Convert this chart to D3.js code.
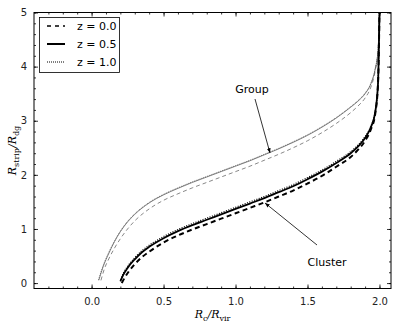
<!DOCTYPE html>
<html>
<head>
<meta charset="utf-8">
<script src="https://cdn.jsdelivr.net/npm/d3@7"></script>
<style>
  body { margin: 0; background: #fff; }
  text { font-family: "DejaVu Sans", sans-serif; }
</style>
</head>
<body>
<script>
// values
var groupZ0 = [[0.065,0.05],[0.09,0.27],[0.12,0.45],[0.16,0.65],[0.2,0.82],[0.25,1.0],[0.3,1.15],[0.4,1.37],[0.5,1.53],[0.6,1.65],[0.7,1.76],[0.8,1.86],[0.9,1.96],[1.0,2.06],[1.1,2.16],[1.2,2.27],[1.3,2.38],[1.4,2.5],[1.5,2.63],[1.6,2.78],[1.7,2.95],[1.8,3.15],[1.85,3.27],[1.9,3.42],[1.94,3.62],[1.97,3.92],[1.99,4.3],[2.0,5.0]];
var groupZ05 = [[0.05,0.05],[0.08,0.3],[0.12,0.55],[0.16,0.77],[0.2,0.95],[0.25,1.13],[0.3,1.27],[0.4,1.48],[0.5,1.63],[0.6,1.75],[0.7,1.86],[0.8,1.96],[0.9,2.06],[1.0,2.16],[1.1,2.26],[1.2,2.37],[1.3,2.48],[1.4,2.6],[1.5,2.73],[1.6,2.88],[1.7,3.05],[1.8,3.25],[1.85,3.36],[1.9,3.5],[1.94,3.68],[1.97,3.95],[1.99,4.3],[2.0,5.0]];
var groupZ1 = [[0.048,0.06],[0.08,0.32],[0.12,0.57],[0.16,0.78],[0.2,0.96],[0.25,1.14],[0.3,1.28],[0.4,1.49],[0.5,1.64],[0.6,1.76],[0.7,1.87],[0.8,1.97],[0.9,2.07],[1.0,2.17],[1.1,2.27],[1.2,2.38],[1.3,2.49],[1.4,2.61],[1.5,2.74],[1.6,2.89],[1.7,3.06],[1.8,3.26],[1.85,3.37],[1.9,3.51],[1.94,3.69],[1.97,3.96],[1.99,4.3],[2.0,5.0]];
var clusterZ0 = [[0.21,0.0],[0.23,0.1],[0.26,0.22],[0.3,0.35],[0.35,0.48],[0.4,0.58],[0.5,0.75],[0.6,0.88],[0.7,0.99],[0.8,1.09],[0.9,1.19],[1.0,1.29],[1.1,1.39],[1.2,1.49],[1.3,1.6],[1.4,1.71],[1.5,1.84],[1.6,1.98],[1.7,2.15],[1.8,2.33],[1.85,2.46],[1.9,2.63],[1.94,2.84],[1.97,3.12],[1.99,3.7],[2.0,5.0]];
var clusterZ05 = [[0.2,0.03],[0.22,0.15],[0.25,0.28],[0.3,0.44],[0.35,0.57],[0.4,0.67],[0.5,0.83],[0.6,0.96],[0.7,1.07],[0.8,1.17],[0.9,1.27],[1.0,1.37],[1.1,1.47],[1.2,1.57],[1.3,1.68],[1.4,1.79],[1.5,1.92],[1.6,2.06],[1.7,2.22],[1.8,2.4],[1.85,2.52],[1.9,2.68],[1.94,2.88],[1.97,3.15],[1.99,3.7],[2.0,5.0]];
var clusterZ1 = [[0.2,0.06],[0.22,0.18],[0.25,0.31],[0.3,0.47],[0.35,0.6],[0.4,0.7],[0.5,0.86],[0.6,0.99],[0.7,1.1],[0.8,1.2],[0.9,1.3],[1.0,1.4],[1.1,1.5],[1.2,1.6],[1.3,1.71],[1.4,1.82],[1.5,1.95],[1.6,2.09],[1.7,2.25],[1.8,2.43],[1.85,2.55],[1.9,2.71],[1.94,2.9],[1.97,3.17],[1.99,3.7],[2.0,5.0]];

var legendLabels = ["z = 0.0", "z = 0.5", "z = 1.0"];
var xTicks = [0.0, 0.5, 1.0, 1.5, 2.0];
var yTicks = [0, 1, 2, 3, 4, 5];

var W = 399, H = 327;
var m = { left: 34, right: 8, top: 12.5, bottom: 38.5 };

var svg = d3.select("body").append("svg")
    .attr("width", W)
    .attr("height", H);

var x = d3.scaleLinear().domain([-0.4, 2.08]).range([m.left, W - m.right]);
var y = d3.scaleLinear().domain([-0.1, 5]).range([H - m.bottom, m.top]);

svg.append("clipPath").attr("id", "clip")
  .append("rect")
    .attr("x", m.left).attr("y", m.top)
    .attr("width", W - m.left - m.right)
    .attr("height", H - m.top - m.bottom);

var line = d3.line()
    .x(function(d) { return x(d[0]); })
    .y(function(d) { return y(d[1]); })
    .curve(d3.curveMonotoneX);

var series = [
  { d: groupZ0, stroke: "#555", w: 0.7, dash: "4,3" },
  { d: groupZ05, stroke: "#555", w: 0.7, dash: null },
  { d: groupZ1, stroke: "#555", w: 0.8, dash: "1,1" },
  { d: clusterZ0, stroke: "#000", w: 2, dash: "5,3.5" },
  { d: clusterZ05, stroke: "#000", w: 1.8, dash: null },
  { d: clusterZ1, stroke: "#000", w: 1.2, dash: "1,1.5" }
];

var plot = svg.append("g").attr("clip-path", "url(#clip)");
series.forEach(function(s) {
  plot.append("path")
      .attr("d", line(s.d))
      .attr("fill", "none")
      .attr("stroke", s.stroke)
      .attr("stroke-width", s.w)
      .attr("stroke-dasharray", s.dash);
});

// axes with inward ticks on all four sides
function axisStyle(g) {
  g.select(".domain").remove();
  g.selectAll("line").attr("stroke", "#000").attr("stroke-width", 0.8);
  g.selectAll("text").attr("font-size", 10).attr("fill", "#222");
}

var xMinor = d3.range(-3, 21).map(function(i) { return i / 10; });
var yMinor = d3.range(0, 26).map(function(i) { return i / 5; });

svg.append("g")
    .attr("transform", "translate(0," + (H - m.bottom) + ")")
    .call(d3.axisBottom(x).tickValues(xMinor).tickSize(-2).tickFormat(""))
    .call(axisStyle);
svg.append("g")
    .attr("transform", "translate(0," + (H - m.bottom) + ")")
    .call(d3.axisBottom(x).tickValues(xTicks).tickSize(-4).tickPadding(9).tickFormat(d3.format(".1f")))
    .call(axisStyle);
svg.append("g")
    .attr("transform", "translate(0," + m.top + ")")
    .call(d3.axisTop(x).tickValues(xMinor).tickSize(-2).tickFormat(""))
    .call(axisStyle);
svg.append("g")
    .attr("transform", "translate(0," + m.top + ")")
    .call(d3.axisTop(x).tickValues(xTicks).tickSize(-4).tickFormat(""))
    .call(axisStyle);

svg.append("g")
    .attr("transform", "translate(" + m.left + ",0)")
    .call(d3.axisLeft(y).tickValues(yMinor).tickSize(-2).tickFormat(""))
    .call(axisStyle);
svg.append("g")
    .attr("transform", "translate(" + m.left + ",0)")
    .call(d3.axisLeft(y).tickValues(yTicks).tickSize(-4).tickPadding(7).tickFormat(d3.format("d")))
    .call(axisStyle);
svg.append("g")
    .attr("transform", "translate(" + (W - m.right) + ",0)")
    .call(d3.axisRight(y).tickValues(yMinor).tickSize(-2).tickFormat(""))
    .call(axisStyle);
svg.append("g")
    .attr("transform", "translate(" + (W - m.right) + ",0)")
    .call(d3.axisRight(y).tickValues(yTicks).tickSize(-4).tickFormat(""))
    .call(axisStyle);

svg.append("rect")
    .attr("x", m.left).attr("y", m.top)
    .attr("width", W - m.left - m.right)
    .attr("height", H - m.top - m.bottom)
    .attr("fill", "none")
    .attr("stroke", "#000")
    .attr("stroke-width", 1);

// axis labels
var xl = svg.append("text")
    .attr("x", (m.left + W - m.right) / 2)
    .attr("y", 318)
    .attr("text-anchor", "middle")
    .style("font-family", "'DejaVu Serif', serif")
    .attr("font-size", 11);
xl.append("tspan").attr("font-style", "italic").text("R");
xl.append("tspan").attr("font-size", 8).attr("dy", 2.5).text("c");
xl.append("tspan").attr("dy", -2.5).attr("font-style", "italic").text("/R");
xl.append("tspan").attr("font-size", 8).attr("dy", 2.5).text("vir");

var yl = svg.append("text")
    .attr("transform", "translate(16," + ((m.top + H - m.bottom) / 2) + ") rotate(-90)")
    .attr("text-anchor", "middle")
    .style("font-family", "'DejaVu Serif', serif")
    .attr("font-size", 11);
yl.append("tspan").attr("font-style", "italic").text("R");
yl.append("tspan").attr("font-size", 8).attr("dy", 2.5).text("strip");
yl.append("tspan").attr("dy", -2.5).attr("font-style", "italic").text("/R");
yl.append("tspan").attr("font-size", 8).attr("dy", 2.5).text("dg");

// legend
var lg = svg.append("g");
lg.append("rect")
    .attr("x", 39.5).attr("y", 17.5)
    .attr("width", 80).attr("height", 55)
    .attr("fill", "#fff")
    .attr("stroke", "#000")
    .attr("stroke-width", 0.8);
var legStyles = [
  { w: 1.6, dash: "4,4" },
  { w: 2, dash: null },
  { w: 1, dash: "1,1" }
];
legendLabels.forEach(function(t, i) {
  var yy = 26 + i * 18;
  lg.append("line")
      .attr("x1", 47).attr("x2", 65)
      .attr("y1", yy).attr("y2", yy)
      .attr("stroke", "#000")
      .attr("stroke-width", legStyles[i].w)
      .attr("stroke-dasharray", legStyles[i].dash);
  lg.append("text")
      .attr("x", 77).attr("y", yy + 4)
      .attr("font-size", 11)
      .text(t);
});

// annotations
svg.append("defs").append("marker")
    .attr("id", "arr")
    .attr("viewBox", "0 0 10 10")
    .attr("refX", 10).attr("refY", 5)
    .attr("markerWidth", 6).attr("markerHeight", 6)
    .attr("orient", "auto")
  .append("path")
    .attr("d", "M0,1L10,5L0,9z")
    .attr("fill", "#000");

var notes = [
  { text: "Group", tx: 252, ty: 93, x1: 255, y1: 99, x2: 270, y2: 153 },
  { text: "Cluster", tx: 327, ty: 266, x1: 317, y1: 245, x2: 265, y2: 203 }
];
notes.forEach(function(n) {
  svg.append("line")
      .attr("x1", n.x1).attr("y1", n.y1)
      .attr("x2", n.x2).attr("y2", n.y2)
      .attr("stroke", "#000")
      .attr("stroke-width", 0.8)
      .attr("marker-end", "url(#arr)");
  svg.append("text")
      .attr("x", n.tx).attr("y", n.ty)
      .attr("text-anchor", "middle")
      .attr("font-size", 11)
      .text(n.text);
});
</script>
</body>
</html>
